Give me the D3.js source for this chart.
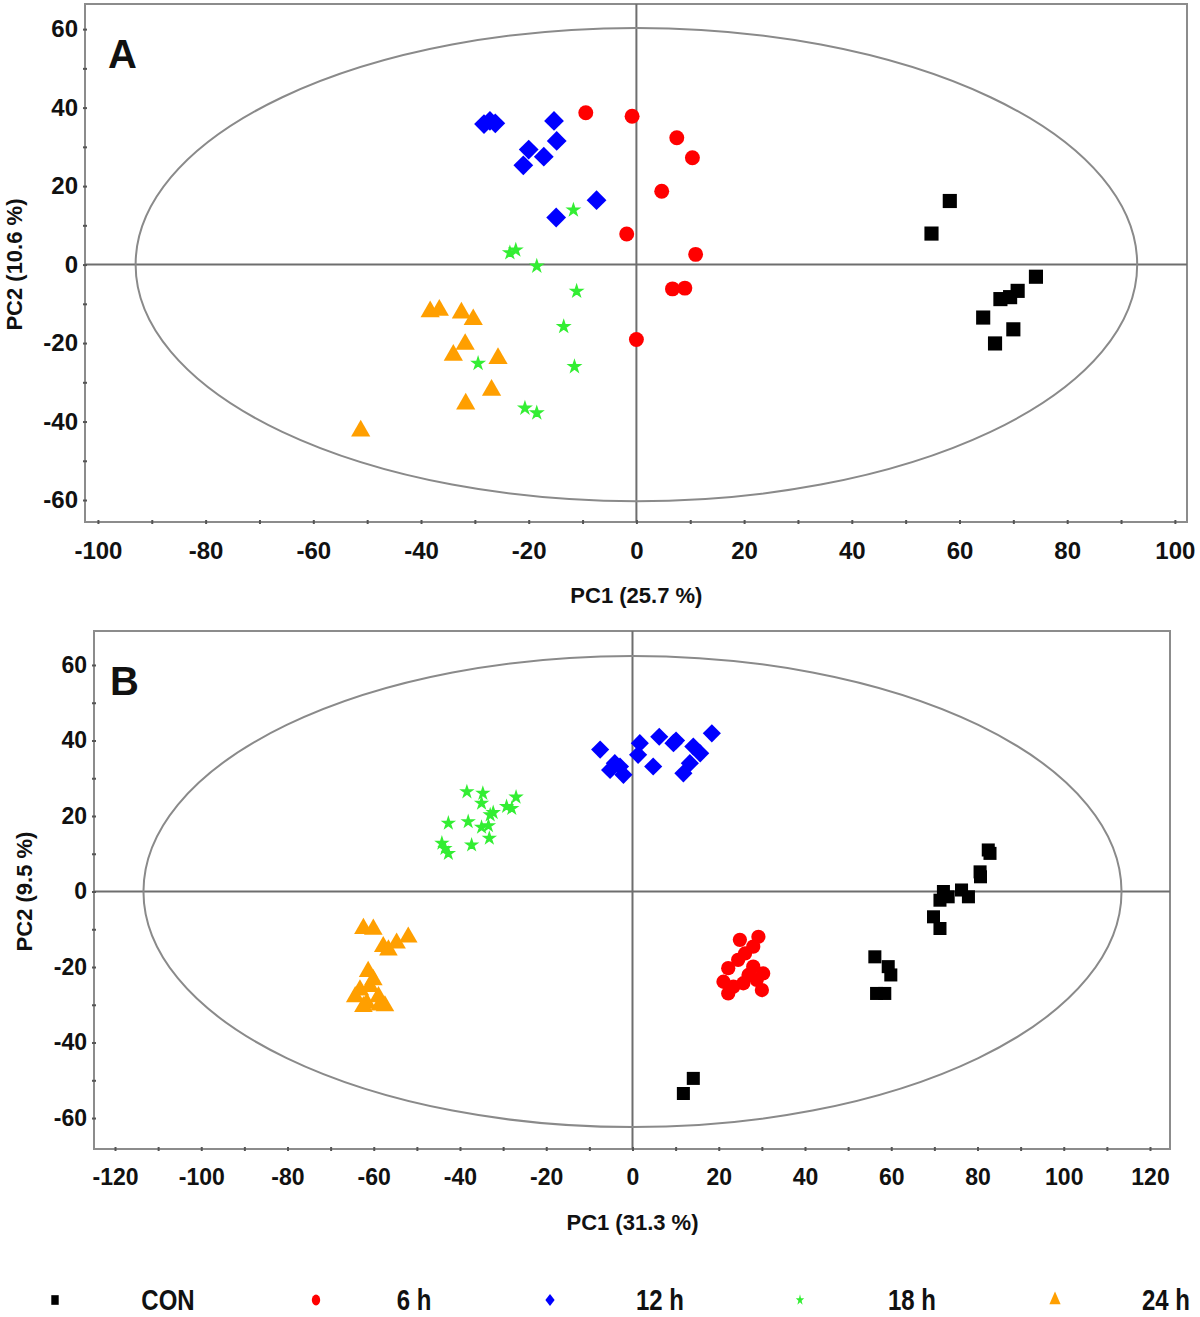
<!DOCTYPE html>
<html>
<head>
<meta charset="utf-8">
<script src="https://cdn.jsdelivr.net/npm/d3@7"></script>
<style>
  html, body { margin: 0; padding: 0; background: #fff; }
  svg { display: block; }
  text { font-family: "Liberation Sans", Arial, sans-serif; font-weight: bold; fill: #111; }
</style>
</head>
<body>
<svg id="chart" width="1200" height="1317"></svg>
<script>
// ---------------- DATA ----------------
const groups = ["CON", "6 h", "12 h", "18 h", "24 h"];
const groupColors = ["#000000", "#ff0000", "#0000ff", "#33ee33", "#ff9f00"];

// Panel A (PC1 25.7 %, PC2 10.6 %)
const A_CON = [[58.2,16.2],[54.8,7.9],[74.2,-3.1],[70.8,-6.7],[69.4,-8.3],[67.6,-8.8],[64.4,-13.5],[70.0,-16.5],[66.6,-20.1]];
const A_6h  = [[-9.4,38.7],[-0.8,37.8],[7.5,32.3],[10.4,27.2],[4.7,18.7],[-1.8,7.8],[11.0,2.6],[6.7,-6.2],[9.0,-6.0],[0.0,-19.1]];
const A_12h = [[-28.3,35.8],[-27.2,36.6],[-26.2,36.0],[-15.3,36.6],[-14.8,31.5],[-20.0,29.3],[-17.2,27.5],[-21.0,25.3],[-7.4,16.4],[-14.9,12.0]];
const A_18h = [[-11.7,13.9],[-23.5,3.0],[-22.4,3.7],[-18.5,-0.4],[-11.1,-6.8],[-13.5,-15.8],[-11.5,-26.0],[-29.4,-25.2],[-20.7,-36.6],[-18.5,-37.8]];
const A_24h = [[-38.3,-12.0],[-36.6,-11.6],[-32.5,-12.3],[-30.3,-14.0],[-31.8,-20.3],[-34.0,-23.1],[-25.7,-23.9],[-31.7,-35.5],[-26.9,-32.0],[-51.2,-42.4]];

// Panel B (PC1 31.3 %, PC2 9.5 %)
const B_CON = [[82.9,10.1],[82.5,11.0],[80.6,5.2],[80.7,3.9],[72.1,0.0],[76.3,0.4],[77.9,-1.4],[71.3,-2.3],[73.2,-1.4],[69.8,-6.7],[71.3,-9.8],[56.2,-17.3],[59.3,-19.9],[59.9,-22.1],[56.6,-27.0],[58.5,-27.0],[14.1,-49.5],[11.8,-53.5]];
const B_6h  = [[29.2,-12.0],[24.9,-12.8],[28.0,-14.6],[26.1,-16.4],[24.5,-18.1],[22.2,-20.3],[28.0,-19.9],[30.3,-21.7],[21.1,-23.9],[28.8,-23.4],[25.7,-24.3],[22.2,-27.0],[30.0,-26.1],[26.9,-22.1],[23.4,-25.2]];
const B_12h = [[-7.5,37.6],[-4.1,34.0],[-5.2,32.2],[-2.1,30.9],[-2.9,33.1],[1.7,39.3],[1.3,36.2],[4.8,33.1],[6.2,41.0],[9.5,39.3],[14.1,38.4],[11.8,31.3],[13.3,34.0],[15.7,36.6],[18.4,41.9],[10.1,40.0]];
const B_18h = [[-38.4,26.4],[-34.7,26.0],[-35.0,23.4],[-27.0,25.0],[-29.2,22.5],[-28.0,22.0],[-32.3,20.9],[-33.0,20.3],[-42.7,18.1],[-38.1,18.5],[-35.0,17.0],[-33.4,17.4],[-33.2,14.1],[-37.3,12.3],[-44.2,12.8],[-42.7,10.1],[-43.5,11.4]];
const B_24h = [[-62.4,-9.8],[-60.1,-10.0],[-57.8,-14.6],[-54.7,-13.7],[-52.0,-12.1],[-56.6,-15.5],[-61.3,-21.2],[-63.2,-26.1],[-64.3,-27.9],[-60.9,-25.2],[-58.9,-27.9],[-61.6,-29.6],[-58.6,-30.1],[-60.1,-23.4],[-62.4,-30.5],[-57.4,-30.3]];

// Axis ticks
const A_xTicks = d3.range(-100, 101, 10);
const A_yTicks = d3.range(-60, 61, 10);
const B_xTicks = d3.range(-120, 121, 10);
const B_yTicks = d3.range(-60, 61, 10);

// Ellipse radii (Hotelling T2) in data units
const A_ellipse = [93, 60.3];
const B_ellipse = [113.4, 62.4];

// ---------------- DRAW ----------------
const svg = d3.select("#chart");

const shapes = [d3.symbolSquare, d3.symbolCircle, d3.symbolDiamond2, d3.symbolStar, d3.symbolTriangle];

function panel(cfg) {
  const g = svg.append("g");
  const x = d3.scaleLinear().domain(cfg.xDomain).range([cfg.left, cfg.right]);
  const y = d3.scaleLinear().domain(cfg.yDomain).range([cfg.bottom, cfg.top]);

  g.append("rect")
    .attr("x", cfg.left).attr("y", cfg.top)
    .attr("width", cfg.right - cfg.left).attr("height", cfg.bottom - cfg.top)
    .attr("fill", "none").attr("stroke", "#8c8c8c").attr("stroke-width", 2);

  g.append("line")
    .attr("x1", x(0)).attr("x2", x(0)).attr("y1", cfg.top).attr("y2", cfg.bottom)
    .attr("stroke", "#6e6e6e").attr("stroke-width", 2);
  g.append("line")
    .attr("x1", cfg.left).attr("x2", cfg.right).attr("y1", y(0)).attr("y2", y(0))
    .attr("stroke", "#6e6e6e").attr("stroke-width", 2);

  g.append("ellipse")
    .attr("cx", x(0)).attr("cy", y(0))
    .attr("rx", x(cfg.ellipse[0]) - x(0)).attr("ry", y(0) - y(cfg.ellipse[1]))
    .attr("fill", "none").attr("stroke", "#8a8a8a").attr("stroke-width", 2);

  const fmt = v => (v % 20 === 0 ? String(v) : "");
  const xa = g.append("g").attr("transform", `translate(0,${cfg.bottom})`)
    .call(d3.axisBottom(x).tickValues(cfg.xTicks).tickFormat(fmt).tickSize(3).tickSizeOuter(0));
  const ya = g.append("g").attr("transform", `translate(${cfg.left},0)`)
    .call(d3.axisLeft(y).tickValues(cfg.yTicks).tickFormat(fmt).tickSize(3).tickSizeOuter(0));
  [xa, ya].forEach(a => {
    a.select(".domain").remove();
    a.selectAll(".tick line").attr("stroke", "#555").attr("stroke-width", 2);
    a.selectAll("text").style("font-size", cfg.tickFont + "px").attr("fill", "#111");
  });
  xa.selectAll(".tick line").attr("y1", -2).attr("y2", 2);
  xa.selectAll("text").attr("y", 20);
  ya.selectAll(".tick line").attr("x1", -2).attr("x2", 2);
  ya.selectAll("text").attr("x", -7);

  g.append("text").attr("x", x(0)).attr("y", cfg.xTitleY)
    .attr("text-anchor", "middle").style("font-size", "22px").text(cfg.xTitle);
  g.append("text").attr("transform", `translate(${cfg.yTitleX},${y(0)}) rotate(-90)`)
    .attr("text-anchor", "middle").style("font-size", "22px").text(cfg.yTitle);
  g.append("text").attr("x", cfg.letterX).attr("y", cfg.letterY)
    .style("font-size", "40px").text(cfg.letter);

  cfg.series.forEach((data, i) => {
    const sym = d3.symbol().type(shapes[i]).size(cfg.sizes[i]);
    g.append("g").selectAll("path").data(data).join("path")
      .attr("transform", d => `translate(${x(d[0])},${y(d[1])})`)
      .attr("d", sym)
      .attr("fill", groupColors[i])
      .attr("stroke", i === 3 ? groupColors[i] : "none")
      .attr("stroke-width", i === 3 ? 1.5 : 0);
  });
}

panel({
  left: 85, right: 1187, top: 4, bottom: 522,
  xDomain: [-102.4, 102.25], yDomain: [-65.6, 66.4],
  xTicks: A_xTicks, yTicks: A_yTicks, ellipse: A_ellipse,
  tickFont: 24,
  xTitle: "PC1 (25.7 %)", xTitleY: 603,
  yTitle: "PC2 (10.6 %)", yTitleX: 22,
  letter: "A", letterX: 108, letterY: 68,
  series: [A_CON, A_6h, A_12h, A_18h, A_24h],
  sizes: [200, 175, 250, 40, 160]
});

panel({
  left: 94, right: 1170, top: 631, bottom: 1149,
  xDomain: [-124.87, 124.64], yDomain: [-68.2, 69.0],
  xTicks: B_xTicks, yTicks: B_yTicks, ellipse: B_ellipse,
  tickFont: 23,
  xTitle: "PC1 (31.3 %)", xTitleY: 1230,
  yTitle: "PC2 (9.5 %)", yTitleX: 32,
  letter: "B", letterX: 110, letterY: 695,
  series: [B_CON, B_6h, B_12h, B_18h, B_24h],
  sizes: [170, 160, 210, 36, 150]
});

// legend
const legendMarkX = [55, 316, 550, 800, 1055];
const legendTextX = [168, 414, 660, 912, 1166];
const leg = svg.append("g");
groups.forEach((name, i) => {
  const sym = d3.symbol().type(shapes[i]).size(i === 3 ? 22 : 55);
  leg.append("path")
    .attr("transform", `translate(${legendMarkX[i]},1300) scale(1,1.3)`)
    .attr("d", sym).attr("fill", groupColors[i]);
  leg.append("text")
    .attr("transform", `translate(${legendTextX[i]},1310) scale(1,1.2)`)
    .attr("text-anchor", "middle").style("font-size", "24px").text(name);
});
</script>
</body>
</html>
